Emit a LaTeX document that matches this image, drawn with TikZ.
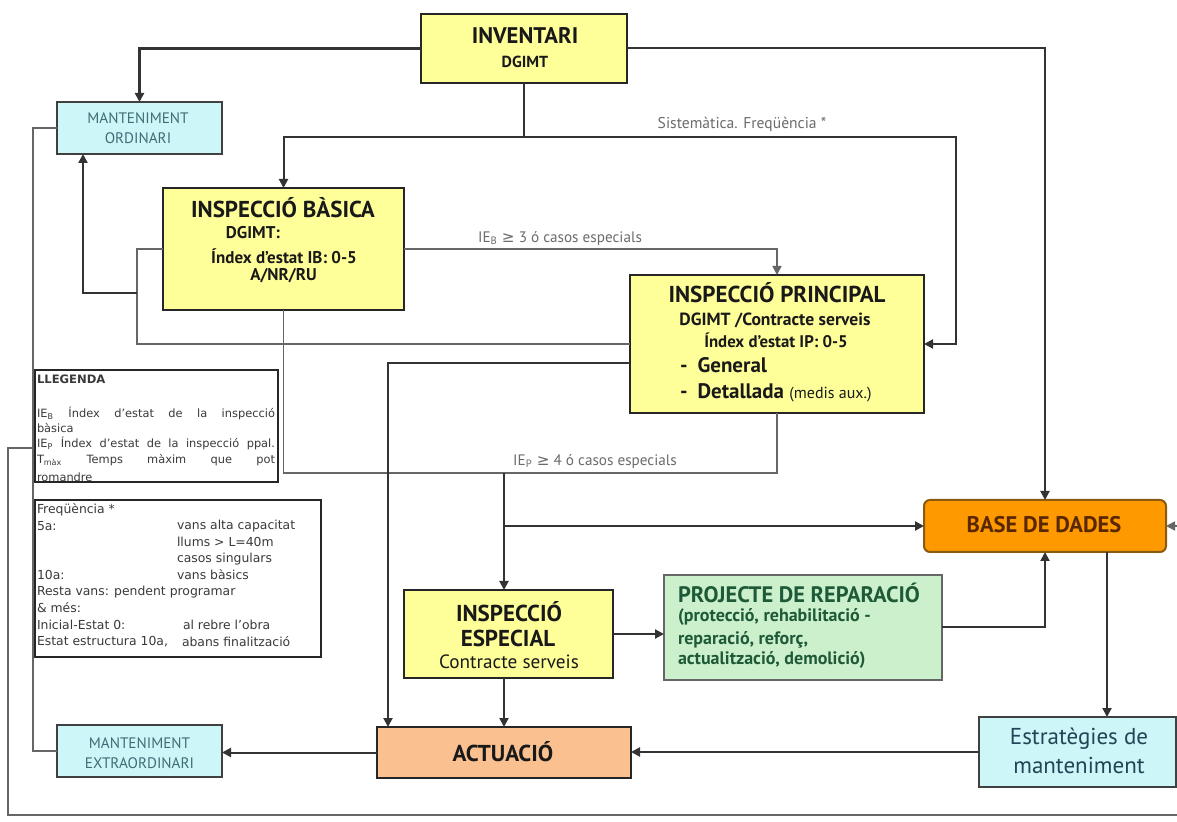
\documentclass[tikz,border=0pt]{standalone}
\usepackage{fontspec}
\setmainfont{PT Sans}
\newfontfamily\dejavu{DejaVu Sans}
\usetikzlibrary{arrows.meta}
\definecolor{yel}{HTML}{FFFF99}
\definecolor{cyanbox}{HTML}{CCF6F8}
\definecolor{orangebox}{HTML}{FF9900}
\definecolor{salmon}{HTML}{FAC08F}
\definecolor{greenbox}{HTML}{CCF0CC}
\definecolor{linec}{HTML}{333333}
\definecolor{labelc}{HTML}{6B6B6B}
\definecolor{motext}{HTML}{3F6D75}
\definecolor{prtext}{HTML}{1F5A38}
\definecolor{esttext}{HTML}{214556}
\definecolor{bddtext}{HTML}{5A2800}
\definecolor{bddborder}{HTML}{8A5A10}
\definecolor{legtext}{HTML}{3A3A3A}
\newcommand{\fsz}[1]{\fontsize{#1}{#1}\selectfont}
\newcommand{\legline}[1]{\makebox[119pt][s]{#1}}
\begin{document}
\begin{tikzpicture}[x=0.5pt,y=-0.5pt,
  box/.style={draw=black!85, line width=0.9pt, inner sep=0pt, outer sep=0pt},
  txt/.style={inner sep=0pt, outer sep=0pt, text=black!90},
  legtxt/.style={inner sep=0pt, outer sep=0pt, anchor=west, text=legtext, font=\dejavu\fsz{5.7}},
  freqtxt/.style={inner sep=0pt, outer sep=0pt, anchor=west, text=legtext, font=\dejavu\fsz{6.2}},
  conn/.style={draw=linec, line width=1pt},
  thinconn/.style={draw=black!60, line width=0.8pt},
  thickconn/.style={draw=linec, line width=1.4pt},
  arr/.style={-{Triangle[length=4.5pt,width=4.5pt]}},
]
\useasboundingbox (0,0) rectangle (1177,822);
\clip (0,0) rectangle (1177,822);
\fill[white] (0,0) rectangle (1177,822);

% ---------- boxes ----------
\node[box, fill=yel, minimum width=103pt, minimum height=34.5pt] (inv) at (524,48.5) {};
\node[txt, font=\bfseries\fsz{11.3}] (invt) at (525,36) {INVENTARI};
\node[txt, font=\bfseries\fsz{8}] (invs) at (525,62) {DGIMT};

\node[box, fill=cyanbox, draw=black!75, minimum width=82.5pt, minimum height=26pt] (mo) at (139.5,128) {};
\node[txt, text=motext, font=\fsz{7.6}] (mot1) at (138,118) {MANTENIMENT};
\node[txt, text=motext, font=\fsz{7.6}] (mot2) at (138,138) {ORDINARI};

\node[box, fill=yel, minimum width=120.5pt, minimum height=61pt] (ib) at (283.5,249) {};
\node[txt, font=\bfseries\fsz{11.5}] (ibt) at (283,208) {INSPECCIÓ BÀSICA};
\node[txt, font=\bfseries\fsz{8.5}] (ib1) at (253,233) {DGIMT:};
\node[txt, font=\bfseries\fsz{8.5}] (ib2) at (284,256) {Índex d’estat IB: 0-5};
\node[txt, font=\bfseries\fsz{8.5}] (ib3) at (283.5,276) {A/NR/RU};

\node[box, fill=yel, minimum width=147pt, minimum height=69pt] (ip) at (777,344) {};
\node[txt, font=\bfseries\fsz{11.5}] (ipt) at (777,293) {INSPECCIÓ PRINCIPAL};
\node[txt, font=\bfseries\fsz{8.8}] (ip1) at (775,320) {DGIMT /Contracte serveis};
\node[txt, font=\bfseries\fsz{8.4}] (ip2) at (776,340) {Índex d’estat IP: 0-5};
\node[txt, anchor=west, font=\bfseries\fsz{10.5}] (ip3) at (680,365) {-\hspace{5pt}General};
\node[txt, anchor=west] (ip4) at (680,393) {{\bfseries\fsz{10.5}-\hspace{5pt}Detallada} {\fsz{8}(medis aux.)}};

\node[box, fill=white, line width=1pt, minimum width=121.5pt, minimum height=56pt] (leg) at (156.5,426) {};
\node[txt, anchor=west, text=legtext, font=\dejavu\bfseries\fsz{5.8}] (legt) at (37,379) {LLEGENDA};
\begin{scope}
\clip (leg.south west) rectangle (leg.north east);
\node[legtxt] (lg1) at (37,413) {\legline{IE\textsubscript{B} Índex d’estat de la inspecció}};
\node[legtxt] (lg2) at (37,428) {bàsica};
\node[legtxt] (lg3) at (37,443) {\legline{IE\textsubscript{P} Índex d’estat de la inspecció ppal.}};
\node[legtxt] (lg4) at (37,460) {\legline{T\textsubscript{màx} Temps màxim que pot}};
\node[legtxt] (lg5) at (37,477) {romandre};
\end{scope}

\node[box, fill=white, line width=1pt, minimum width=143pt, minimum height=78.5pt] (freq) at (178,578.5) {};
\node[freqtxt] (f1) at (37,510) {Freqüència *};
\node[freqtxt] (f2) at (37,526) {5a:};
\node[freqtxt] (f3) at (177,526) {vans alta capacitat};
\node[freqtxt] (f4) at (177,542) {llums > L=40m};
\node[freqtxt] (f5) at (177,559) {casos singulars};
\node[freqtxt] (f6) at (37,575) {10a:};
\node[freqtxt] (f7) at (177,575) {vans bàsics};
\node[freqtxt] (f8) at (37,592) {Resta vans: pendent programar};
\node[freqtxt] (f9) at (37,608) {\& més:};
\node[freqtxt] (f10) at (37,625) {Inicial-Estat 0:};
\node[freqtxt] (f11) at (183,625) {al rebre l’obra};
\node[freqtxt] (f12) at (37,642) {Estat estructura 10a,};
\node[freqtxt] (f13) at (182,642) {abans finalització};

\node[box, fill=orangebox, draw=bddborder, line width=1pt, rounded corners=3pt, minimum width=121pt, minimum height=26pt] (bdd) at (1045,526) {};
\node[txt, text=bddtext, font=\bfseries\fsz{11.3}] (bddt) at (1044,525) {BASE DE DADES};

\node[box, fill=yel, minimum width=104.5pt, minimum height=44pt] (ie) at (508.5,634) {};
\node[txt, font=\bfseries\fsz{11.5}] (iet1) at (509,612) {INSPECCIÓ};
\node[txt, font=\bfseries\fsz{11.5}] (iet2) at (508,638) {ESPECIAL};
\node[txt, font=\fsz{9.6}] (iet3) at (509,662) {Contracte serveis};

\node[box, fill=greenbox, draw=black!60, minimum width=139pt, minimum height=52.5pt] (pr) at (803,627.5) {};
\node[txt, anchor=west, text=prtext, font=\bfseries\fsz{11.2}] (prt) at (678,593) {PROJECTE DE REPARACIÓ};
\node[txt, anchor=west, text=prtext, font=\bfseries\fsz{9}] (pr1) at (678,617) {(protecció, rehabilitació -};
\node[txt, anchor=west, text=prtext, font=\bfseries\fsz{9}] (pr2) at (678,640) {reparació, reforç,};
\node[txt, anchor=west, text=prtext, font=\bfseries\fsz{9}] (pr3) at (678,660) {actualització, demolició)};

\node[box, fill=salmon, minimum width=127pt, minimum height=25.5pt] (act) at (504,752.5) {};
\node[txt, font=\bfseries\fsz{11.5}] (actt) at (503,752) {ACTUACIÓ};

\node[box, fill=cyanbox, draw=black!75, minimum width=82.5pt, minimum height=26pt] (mex) at (139.5,751) {};
\node[txt, text=motext, font=\fsz{7.6}] (mext1) at (139.5,743) {MANTENIMENT};
\node[txt, text=motext, font=\fsz{7.6}] (mext2) at (139.5,763) {EXTRAORDINARI};

\node[box, fill=cyanbox, draw=black!75, minimum width=98.5pt, minimum height=35pt] (est) at (1077.5,752) {};
\node[txt, text=esttext, font=\fsz{11.5}] (estt1) at (1079,739) {Estratègies de};
\node[txt, text=esttext, font=\fsz{11.5}] (estt2) at (1079,765) {manteniment};

% ---------- labels ----------
\node[txt, text=labelc, font=\fsz{7.8}] (lsis) at (742,124) {Sistemàtica. Freqüència *};
\node[txt, text=labelc, font=\fsz{7.6}] (lib) at (560,239) {IE\textsubscript{B} {\dejavu ≥} 3 ó casos especials};
\node[txt, text=labelc, font=\fsz{7.6}] (lip) at (595,462) {IE\textsubscript{P} {\dejavu ≥} 4 ó casos especials};

% ---------- connectors ----------
\coordinate (j1) at (524,137);
\coordinate (j2) at (956,137);
\coordinate (bddout) at ([xshift=31pt]bdd.south);
\draw[thickconn,arr] (inv.west) -| (mo.north);
\draw[conn,arr] (inv.east) -| (bdd.north);
\draw[conn] (inv.south) -- (j1);
\draw[conn,arr] (j1) -| (ib.north);
\draw[conn,arr] (j1) -- (j2) |- (ip.east);
\draw[thinconn,arr] (ib.east) -| (ip.north);
\draw[thinconn] (ib.west) -- (137,249) |- (ip.west);
\draw[thickconn,arr] (137,293) -| ([xshift=-28.25pt]mo.south);
\draw[thinconn] (ib.south) -- (283.5,473) -| (ip.south);
\draw[conn,arr] (504,473) -- (ie.north -| act.north);
\draw[thickconn,arr] (504,526) -- (bdd.west);
\draw[conn,arr] ([yshift=-9.5pt]ip.west) -| ([xshift=5.5pt]act.north west);
\draw[conn,arr] (ie.south -| act.north) -- (act.north);
\draw[conn,arr] (ie.east) -- (ie.east -| pr.west);
\draw[conn,arr] (pr.east) -| (bdd.south);
\draw[conn,arr] (bddout) -- (bddout |- est.north);
\draw[conn,arr] (est.west) -- (est.west -| act.east);
\draw[conn,arr] (act.west) -- (act.west -| mex.east);
\draw[thinconn] (mo.west) -- (33,128) -- (33,751) -- (mex.west);
\draw[thinconn,arr] (33,448) -- (8,448) -- (8,815) -- (1190,815) -- (1190,526) -- (bdd.east);
\end{tikzpicture}
\end{document}
